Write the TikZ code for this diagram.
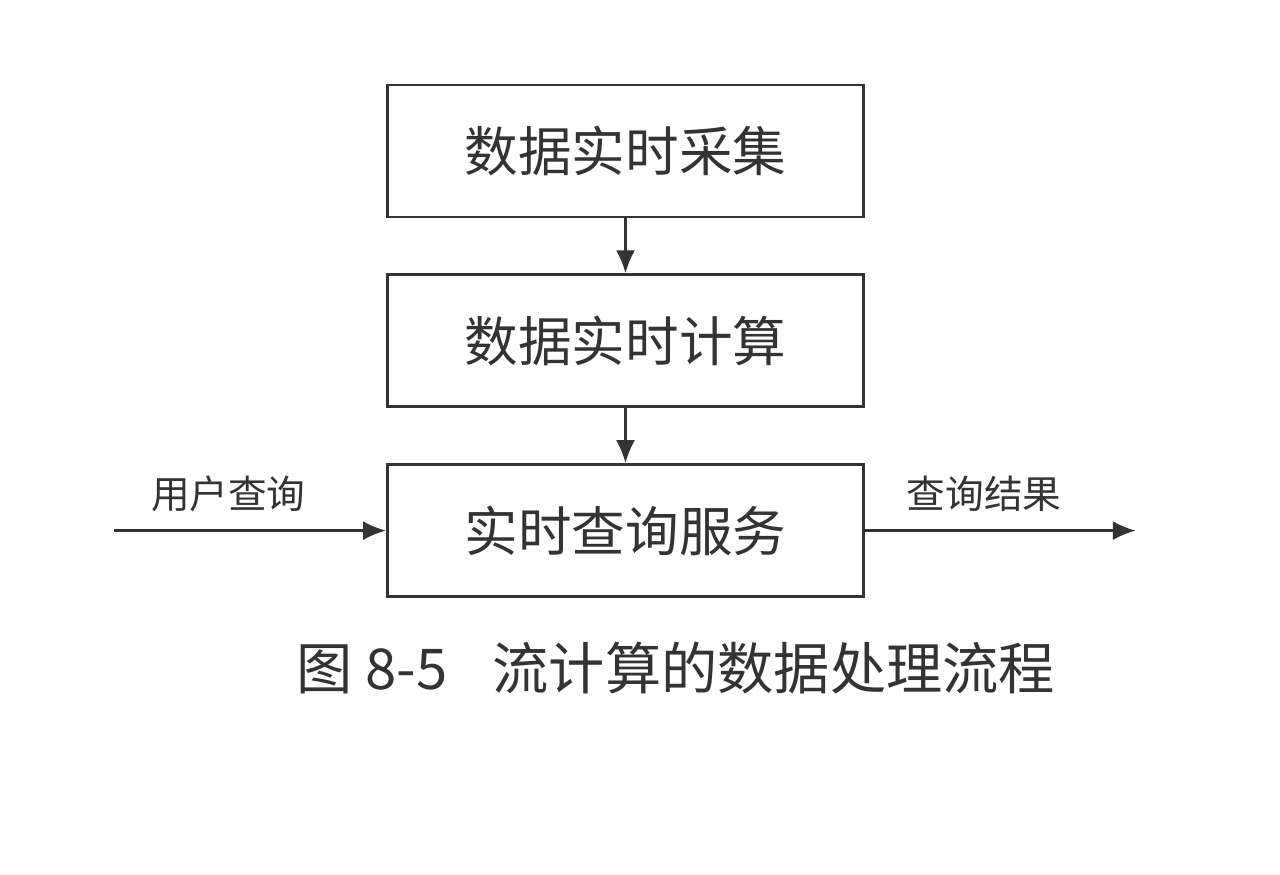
\documentclass[tikz,border=0pt]{standalone}
\usepackage{fontspec}
\newfontfamily\cjk{Noto Sans CJK SC}
\usepackage{tikz}
\usetikzlibrary{arrows.meta,positioning}
\usepackage{xcolor}
\definecolor{inkgray}{HTML}{333333}
\tikzset{
    streambox/.style={draw=inkgray, line width=1.6pt, align=center, font=\cjk\fontsize{30.5}{36}\selectfont, text=inkgray, minimum width=9.52cm, minimum height=2.64cm, inner sep=0pt},
    streamarrow/.style={-{Latex[length=0.46cm,width=0.38cm]}, line width=1.6pt, draw=inkgray},
    streamnote/.style={font=\cjk\fontsize{22}{26}\selectfont, text=inkgray, inner sep=1pt},
    streamcaption/.style={font=\cjk\fontsize{32}{38}\selectfont, text=inkgray}
}
\begin{document}
\begin{tikzpicture}[node distance=1.1cm]
        \useasboundingbox[fill=white] (0,0) rectangle (25.6,17.48);
        \node[streambox] (collect) at (12.51,14.46) {数据实时采集};
        \node[streambox, below=of collect] (compute) {数据实时计算};
        \node[streambox, below=of compute] (service) {实时查询服务};
        \coordinate[left=5.44cm of service.west] (query);
        \coordinate[right=5.42cm of service.east] (result);

        \draw[streamarrow] (collect) -- (compute);
        \draw[streamarrow] (compute) -- (service);
        \draw[streamarrow] (query) -- node[streamnote, above=0.32cm, pos=0.42]{用户查询} (service.west);
        \draw[streamarrow] (service.east) -- node[streamnote, above=0.32cm, pos=0.44]{查询结果} (result);

        \node[streamcaption] (caption) at (13.52,4.12) {图 8-5\hspace{0.9cm}流计算的数据处理流程};
    \end{tikzpicture}
\end{document}
